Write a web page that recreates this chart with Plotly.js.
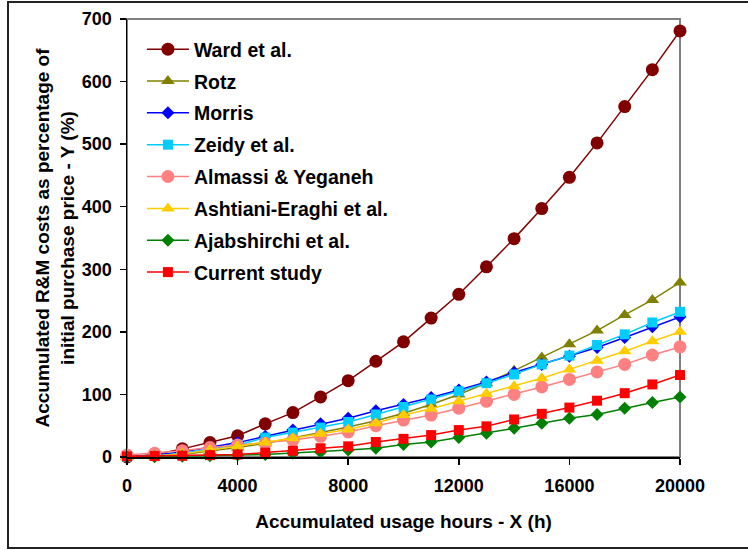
<!DOCTYPE html>
<html>
<head>
<meta charset="utf-8">
<script src="https://cdn.plot.ly/plotly-3.0.1.min.js"></script>
<style>
  html, body { margin: 0; padding: 0; background: #fff; }
  #wrap { position: relative; width: 748px; height: 550px; overflow: hidden; }
  #chart { position: absolute; left: 0; top: 0; width: 748px; height: 550px; }
  #frame { position: absolute; left: 7px; top: 1px; width: 800px; height: 544px;
           border: 2px solid #222; pointer-events: none; }
</style>
</head>
<body>
<div id="wrap"><div id="chart"></div><div id="frame"></div></div>
<script>
// Accumulated usage hours (h)
const hours = [0,1000,2000,3000,4000,5000,6000,7000,8000,9000,10000,
               11000,12000,13000,14000,15000,16000,17000,18000,19000,20000];

// Accumulated R&M costs (% of initial purchase price)
const ward        = [0,4,13,23,34,53,71,96,122,153,184,222,260,304,349,397,447,502,560,619,681];
const rotz        = [0,1,4,9,15,22,30,39,48,58,70,84,100,118,138,159,180,202,227,251,279];
const morris      = [0,3,8,15,23,33,43,53,62,74,84,95,107,120,135,148,161,175,191,208,224];
const zeidy       = [0,2,6,12,19,31,39,47,56,68,80,92,105,118,132,148,162,179,196,215,232];
const almassi     = [3,6,10,15,19,22,27,33,40,50,59,67,78,89,100,112,124,136,148,163,176];
const ashtiani    = [0,1,5,11,17,23,30,37,44,54,67,77,89,101,113,126,140,154,169,185,200];
const ajabshirchi = [0,0.5,1,2,3,4,6,8,11,14,20,24,31,38,46,54,62,68,78,87,96];
const current     = [1,1.5,2,3,4,7,10,14,17,24,29,35,43,49,60,69,79,90,102,116,131];

const seriesNames = ["Ward et al.","Rotz","Morris","Zeidy et al.","Almassi & Yeganeh",
                     "Ashtiani-Eraghi et al.","Ajabshirchi et al.","Current study"];
const seriesData  = [ward, rotz, morris, zeidy, almassi, ashtiani, ajabshirchi, current];
const colors  = ["#800000","#808000","#0000FF","#00CCFF","#FF8080","#FFCC00","#008000","#FF0000"];
const symbols = ["circle","triangle-up","diamond","square","circle","triangle-up","diamond","square"];
const sizes   = [13,12,10,10,13,12,10,10];

const traces = seriesNames.map((name, i) => ({
  x: hours, y: seriesData[i], name: name, type: "scatter", mode: "lines+markers",
  legendgroup: "g" + i,
  line: { color: colors[i], width: 1.5 },
  marker: { color: colors[i], symbol: symbols[i], size: sizes[i], line: { width: 0 } },
  cliponaxis: false
}));

const fam = "Liberation Sans, Arial, sans-serif";
const tickFont  = { family: fam, size: 18, color: "#000", weight: "bold" };
const titleFont = { family: fam, size: 19, color: "#000", weight: "bold" };
const legendFont = { family: fam, size: 19.5, color: "#000", weight: "bold" };

const layout = {
  width: 748, height: 550,
  margin: { l: 127, r: 68, t: 19, b: 93 },
  paper_bgcolor: "#fff", plot_bgcolor: "#fff",
  showlegend: true,
  legend: {
    x: 0.027, y: 0.975, xanchor: "left", yanchor: "top",
    font: legendFont, bgcolor: "rgba(0,0,0,0)", borderwidth: 0,
    tracegroupgap: 3.5, itemwidth: 42, traceorder: "grouped"
  },
  xaxis: {
    range: [0, 20000], tickvals: [0,4000,8000,12000,16000,20000], tickformat: "d",
    ticks: "outside", ticklen: 6, tickwidth: 1.5, tickcolor: "#000",
    showline: true, linecolor: "#000", linewidth: 1.5,
    showgrid: false, zeroline: false, tickfont: tickFont, ticklabelstandoff: 6,
    title: { text: "Accumulated usage hours - X (h)", font: titleFont, standoff: 19 }
  },
  yaxis: {
    range: [0, 700], dtick: 100,
    ticks: "outside", ticklen: 6, tickwidth: 1.5, tickcolor: "#000",
    showline: true, linecolor: "#000", linewidth: 1.5,
    showgrid: false, zeroline: false, tickfont: tickFont, ticklabelstandoff: 4,
    title: { text: "Accumulated R&M costs as percentage of<br>initial purchase price - Y (%)", font: titleFont, standoff: 2 }
  },
  shapes: [{
    type: "rect", xref: "paper", yref: "paper", x0: 0, x1: 1, y0: 0, y1: 1,
    line: { color: "#808080", width: 2 }, layer: "below"
  }]
};

Plotly.newPlot("chart", traces, layout, { staticPlot: true, displayModeBar: false });
</script>
</body>
</html>
